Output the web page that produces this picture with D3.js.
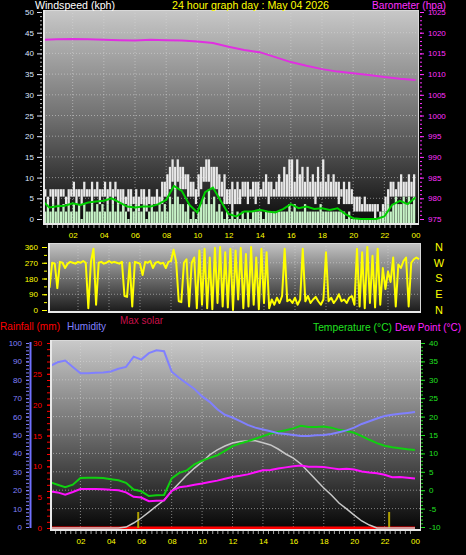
<!DOCTYPE html>
<html><head><meta charset="utf-8">
<script src="https://cdn.jsdelivr.net/npm/d3@7"></script>
<style>
html,body{margin:0;padding:0;background:#000;}
svg{display:block;}
text{font-family:"Liberation Sans",Arial,sans-serif;}
</style></head><body>
<svg id="c" width="466" height="555"></svg>
<script>
// ---------- DATA ----------
const hourLabels = ["02","04","06","08","10","12","14","16","18","20","22","00"];
const labelHours = [2,4,6,8,10,12,14,16,18,20,22,24];
const windTicks = [0,5,10,15,20,25,30,35,40,45,50];
const baroTicks = [975,980,985,990,995,1000,1005,1010,1015,1020,1025];
const dirTicks = [0,90,180,270,360];
const compassLabels = ["N","E","S","W","N"];
const humTicks = [0,10,20,30,40,50,60,70,80,90,100];
const rainTicks = [0,5,10,15,20,25,30];
const tempTicks = [-10,-5,0,5,10,15,20,25,30,35,40];

// barometer, hourly (hpa)
const baroHourly = [1018.3,1018.4,1018.5,1018.4,1018.3,1018.2,1018.1,1018.3,1018.2,1018.1,1017.9,1017.5,1016.6,
  1015.8,1015.3,1014.1,1012.9,1012.0,1011.2,1010.6,1010.2,1009.8,1009.3,1008.9,1008.6];

// gust range per 10 minutes (kph)
const gustHi = [
7.2,7.2,5.4,7.2,7.2,7.2, 7.2,7.2,7.2,5.4,7.2,7.2, 9.0,7.2,7.2,7.2,9.0,7.2, 7.2,9.0,7.2,9.0,7.2,7.2,
9.0,7.2,9.0,7.2,9.0,7.2, 7.2,7.2,5.4,7.2,7.2,5.4, 7.2,5.4,7.2,7.2,5.4,7.2, 5.4,5.4,7.2,5.4,9.0,9.0,
10.8,12.6,14.4,12.6,14.4,12.6, 12.6,10.8,10.8,9.0,9.0,7.2, 10.8,12.6,12.6,14.4,14.4,12.6, 12.6,12.6,10.8,9.0,10.8,7.2,
7.2,9.0,7.2,9.0,7.2,9.0, 9.0,9.0,7.2,9.0,9.0,9.0, 7.2,9.0,10.8,9.0,9.0,7.2, 9.0,10.8,9.0,12.6,10.8,14.4,
14.4,9.0,14.4,10.8,12.6,9.0, 12.6,9.0,10.8,9.0,12.6,9.0, 14.4,9.0,10.8,9.0,10.8,9.0, 9.0,7.2,9.0,7.2,9.0,7.2,
5.4,5.4,5.4,3.6,5.4,3.6, 3.6,3.6,3.6,3.6,1.8,3.6, 5.4,7.2,9.0,9.0,7.2,9.0, 10.8,9.0,9.0,10.8,9.0,10.8];
const gustLo = [
3.6,5.4,3.6,5.4,3.6,5.4, 3.6,5.4,5.4,3.6,3.6,5.4, 5.4,3.6,5.4,3.6,5.4,5.4, 5.4,3.6,5.4,5.4,3.6,5.4,
5.4,3.6,5.4,3.6,5.4,3.6, 3.6,1.8,3.6,1.8,3.6,3.6, 3.6,1.8,3.6,3.6,1.8,3.6, 3.6,3.6,3.6,3.6,3.6,5.4,
5.4,7.2,9.0,7.2,9.0,7.2, 7.2,7.2,5.4,5.4,5.4,3.6, 5.4,7.2,9.0,9.0,9.0,7.2, 7.2,7.2,5.4,5.4,3.6,3.6,
3.6,1.8,3.6,3.6,3.6,5.4, 5.4,3.6,5.4,5.4,3.6,5.4, 5.4,5.4,5.4,3.6,5.4,5.4, 5.4,5.4,5.4,5.4,5.4,5.4,
5.4,5.4,5.4,5.4,5.4,5.4, 5.4,5.4,5.4,3.6,5.4,5.4, 5.4,5.4,5.4,5.4,5.4,5.4, 3.6,5.4,3.6,3.6,3.6,3.6,
1.8,1.8,1.8,1.8,1.8,1.8, 1.8,1.8,0,1.8,0,1.8, 1.8,3.6,5.4,5.4,5.4,5.4, 5.4,5.4,5.4,5.4,5.4,5.4];
// wind speed per 10 minutes (kph)
const windSpeed = [
3.6,1.8,3.6,1.8,3.6,1.8, 3.6,1.8,3.6,1.8,3.6,1.8, 3.6,1.8,3.6,0,3.6,1.8, 1.8,3.6,1.8,3.6,1.8,3.6,
1.8,3.6,1.8,3.6,1.8,3.6, 1.8,3.6,1.8,0,3.6,1.8, 3.6,1.8,1.8,3.6,0,1.8, 3.6,1.8,1.8,3.6,1.8,3.6,
1.8,5.4,3.6,7.2,5.4,3.6, 3.6,1.8,3.6,0,1.8,0, 1.8,3.6,5.4,3.6,7.2,3.6, 5.4,1.8,3.6,1.8,0,1.8,
0,1.8,0,1.8,0,1.8, 0,1.8,0,1.8,1.8,1.8, 1.8,0,1.8,1.8,1.8,1.8, 1.8,1.8,1.8,1.8,1.8,3.6,
1.8,3.6,1.8,1.8,1.8,3.6, 1.8,1.8,1.8,1.8,1.8,3.6, 1.8,1.8,1.8,1.8,1.8,1.8, 1.8,1.8,1.8,0,1.8,0,
0,0,0,0,0,0, 0,0,0,0,0,1.8, 1.8,3.6,1.8,3.6,5.4,3.6, 3.6,5.4,3.6,5.4,3.6,5.4];
// average wind per 30 minutes (kph)
const windAvg = [4.6,2.8,3.1,3.2,3.8,3.4,4.0,4.2,4.4,5.0,4.0,3.0,2.8,3.0,3.0,3.6,4.6,8.0,6.8,3.4,1.6,6.5,7.6,4.4,
  1.2,0.6,1.8,1.8,2.2,1.8,1.6,2.4,3.6,2.6,3.0,2.4,2.6,2.2,2.6,1.2,0.2,0,0,0,0.6,3.4,4.4,3.6,5.2];

// wind direction per 10 minutes (degrees)
const windDir = [
280,130,270,265,125,275, 270,240,265,275,270,265, 275,270,280,270,10,275, 350,30,270,275,265,270,
280,270,275,270,265,275, 80,75,270,20,275,270, 265,200,275,270,280,240, 270,275,265,270,240,275,
280,345,275,50,45,270, 290,20,270,300,10,340, 30,350,10,300,5,355, 40,360,20,330,15,350,
0,340,60,355,10,320, 20,360,30,300,5,350, 40,330,10,60,30,70, 40,80,350,50,60,40,
70,30,60,350,50,80, 40,60,75,50,30,60, 330,50,70,40,60,90, 50,60,40,70,80,30,
350,20,330,10,360,40, 310,15,350,30,240,120, 220,160,300,20,260,240, 280,300,20,270,290,300, 290];

// per 30 minutes
const humidity = [87.5,89.5,90.5,87,83.5,83.6,83.8,84,84.5,86,87,92.6,91,94.5,96,95.5,84.4,81,78,75,71,68,64,61,
  59.5,57.5,55.5,54,53,52,51,50.5,50,49.5,49.5,49.8,50,50.5,51.5,52.5,54,56,57.5,59,60.3,61,61.5,62,62.5];
const temperature = [2.2,1.5,0.8,1.5,3.3,3.35,3.35,3.3,3.0,2.7,2.0,0.2,-0.3,-1.6,-1.4,-1.3,3.2,4.7,5.4,7.0,8.0,8.8,9.5,10.7,
  12.0,12.7,13.3,14.0,14.7,15.4,15.9,16.3,16.8,17.5,17.2,17.2,17.3,17.0,16.4,16.1,15.6,14.7,13.7,12.8,12.1,11.7,11.4,11.1,10.9];
const dewPoint = [-0.3,-0.6,-1.2,-0.5,0.3,0.3,0.3,0.25,0.1,0,-0.6,-1.8,-2.0,-3.0,-2.9,-2.8,-0.2,0.8,1.1,1.5,1.8,2.2,2.6,3.1,
  3.6,3.9,4.3,4.9,5.4,5.5,5.9,6.2,6.5,6.7,6.4,6.4,6.3,6.0,5.7,5.8,5.6,5.1,4.8,4.6,4.2,3.5,3.6,3.4,3.2];
const maxSolar = [0,0,0,0,0,0,0,0,0,0,5,27,54,86,119,151,200,243,286,324,357,395,422,443,
  459,468,472,471,461,449,427,400,378,346,303,259,216,178,135,103,70,38,16,0,0,0,0,0,0];
// rainfall, hourly (mm)
const rainfall = [0,0,0,0,0,0,0,0,0,0,0,0,0,0,0,0,0,0,0,0,0,0,0,0,0];
// sunrise / sunset markers (hour)
const sunMarks = [5.8, 22.3];

// ---------- DRAW ----------
const svg = d3.select("#c");
const defs = svg.append("defs");
function grad(id, stops){
  const g = defs.append("linearGradient").attr("id",id).attr("x1",0).attr("y1",0).attr("x2",0).attr("y2",1);
  stops.forEach(s=>g.append("stop").attr("offset",s[0]).attr("stop-color",s[1]));
}
grad("g1",[[0,"#c8c8c8"],[0.5,"#707070"],[1,"#080808"]]);
grad("g2",[[0,"#c4c4c4"],[1,"#181818"]]);
grad("g3",[[0,"#cacaca"],[0.5,"#6a6a6a"],[1,"#040404"]]);

const P1 = {x0:43,x1:419,y0:10,y1:225};
const P2 = {x0:48,x1:421,y0:243,y1:313};
const P3 = {x0:50,x1:421,y0:340,y1:531};

function panel(P,gid,cid){
  svg.append("rect").attr("x",P.x0).attr("y",P.y0).attr("width",P.x1-P.x0).attr("height",P.y1-P.y0)
     .attr("fill",`url(#${gid})`);
  defs.append("clipPath").attr("id",cid).append("rect").attr("x",P.x0+1).attr("y",P.y0+1)
     .attr("width",P.x1-P.x0-2).attr("height",P.y1-P.y0-2);
}
function border(P){
  svg.append("rect").attr("x",P.x0+0.5).attr("y",P.y0+0.5).attr("width",P.x1-P.x0-1).attr("height",P.y1-P.y0-1)
     .attr("fill","none").attr("stroke","#d8d8d8").attr("stroke-width",1);
  svg.append("path").attr("d",`M${P.x0+1},${P.y0} V${P.y1-1} H${P.x1}`).attr("fill","none")
     .attr("stroke","#e8e8e8").attr("stroke-width",2);
}
function styleAxis(g,color,fs){
  g.select(".domain").remove();
  g.selectAll("line").attr("stroke",color);
  g.selectAll("text").attr("fill",color).style("font-size",fs+"px");
}
function gridLines(P,xs,ys,x,y){
  const g = svg.append("g").attr("stroke","#d8d8d8").attr("stroke-opacity",0.55).attr("stroke-dasharray","1,2");
  xs.forEach(h=>g.append("line").attr("x1",x(h)).attr("x2",x(h)).attr("y1",P.y0).attr("y2",P.y1));
  ys.forEach(v=>g.append("line").attr("x1",P.x0).attr("x2",P.x1).attr("y1",y(v)).attr("y2",y(v)));
}
function title(x,y,color,txt,len,fs){
  svg.append("text").attr("x",x).attr("y",y).attr("fill",color).style("font-size",(fs||11)+"px")
    .attr("textLength",len).attr("lengthAdjust","spacingAndGlyphs").text(txt);
}

// scales
const x1 = d3.scaleLinear([0,24],[41.5,415.5]);
const yW = d3.scaleLinear([0,50],[219,12]);
const yB = d3.scaleLinear([975,1025],[219,12]);
const x2 = d3.scaleLinear([0,24],[47,419]);
const yD = d3.scaleLinear([0,360],[310,247]);
const x3 = d3.scaleLinear([0,24],[50,415]);
const yH = d3.scaleLinear([0,100],[527,343]);
const yR = d3.scaleLinear([0,30],[528,343]);
const yT = d3.scaleLinear([-10,40],[527,343]);
const yS = d3.scaleLinear([0,1000],[528,343]);

// ===== Panel 1: wind & barometer =====
panel(P1,"g1","c1");
gridLines(P1,labelHours.slice(0,11),windTicks.slice(1,10),x1,yW);
const p1 = svg.append("g").attr("clip-path","url(#c1)");
const slot = x1(1/6)-x1(0);
p1.append("g").selectAll("rect").data(gustHi).join("rect")
  .attr("x",(d,i)=>x1(i/6)+0.1).attr("width",slot-0.35)
  .attr("y",d=>yW(d)).attr("height",(d,i)=>Math.max(1,yW(gustLo[i])-yW(d)))
  .attr("fill","#e8e8e8");
p1.append("g").selectAll("rect").data(windSpeed).join("rect")
  .attr("x",(d,i)=>x1(i/6)+0.1).attr("width",slot-0.35)
  .attr("y",d=>yW(d)).attr("height",d=>yW(0)-yW(d)+4)
  .attr("fill","#c6f2c6");
p1.append("path").datum(windAvg).attr("fill","none").attr("stroke","#00d000").attr("stroke-width",2)
  .attr("d",d3.line().x((d,i)=>x1(i/2)).y(d=>yW(d)));
p1.append("path").datum(baroHourly).attr("fill","none").attr("stroke","#e030e0").attr("stroke-width",2)
  .attr("d",d3.line().x((d,i)=>x1(i)).y(d=>yB(d)));
border(P1);

const aw = svg.append("g").attr("transform","translate(42,0)")
  .call(d3.axisLeft(yW).tickValues(windTicks).tickSize(5).tickPadding(3));
styleAxis(aw,"#dde6ff",8);
styleAxis(svg.append("g").attr("transform","translate(42,0)")
  .call(d3.axisLeft(yW).tickValues(d3.range(0,51,1)).tickSize(2).tickFormat("")),"#c0c0c0",8);
const ab = svg.append("g").attr("transform","translate(420,0)")
  .call(d3.axisRight(yB).tickValues(baroTicks).tickSize(4).tickPadding(4).tickFormat(d=>String(d)));
styleAxis(ab,"#ff30ff",8);
styleAxis(svg.append("g").attr("transform","translate(420,0)")
  .call(d3.axisRight(yB).tickValues(d3.range(975,1026,1)).tickSize(2).tickFormat("")),"#ff30ff",8);
const ax1 = svg.append("g").attr("transform",`translate(0,${P1.y1})`)
  .call(d3.axisBottom(x1).tickValues(labelHours).tickSize(0).tickPadding(7).tickFormat((d,i)=>hourLabels[i]));
styleAxis(ax1,"#ffff00",8);
styleAxis(svg.append("g").attr("transform",`translate(0,${P1.y1})`)
  .call(d3.axisBottom(x1).tickValues(d3.range(1,72).map(k=>k/3)).tickSize(3).tickFormat("")),"#a0a0a0",8);

// titles
title(35,9,"#ffffff","Windspeed (kph)",80,10.5);
title(172,9,"#ffff00","24 hour graph day : May 04 2026",157,10.5);
title(372,8.5,"#ff30ff","Barometer (hpa)",74,10);

// ===== Panel 2: wind direction =====
panel(P2,"g2","c2");
gridLines(P2,labelHours.slice(0,11),[90,180,270],x2,yD);
svg.append("g").attr("clip-path","url(#c2)").append("path").datum(windDir)
  .attr("fill","none").attr("stroke","#ffff00").attr("stroke-width",2).attr("stroke-linejoin","round")
  .attr("d",d3.line().x((d,i)=>x2(i/6)).y(d=>yD(d)));
border(P2);
const ad = svg.append("g").attr("transform","translate(47,0)")
  .call(d3.axisLeft(yD).tickValues(dirTicks).tickSize(5).tickPadding(4));
styleAxis(ad,"#ffff00",8);
styleAxis(svg.append("g").attr("transform","translate(47,0)")
  .call(d3.axisLeft(yD).tickValues(d3.range(0,361,45)).tickSize(3).tickFormat("")),"#ffff00",8);
svg.append("g").selectAll("text").data(dirTicks).join("text")
  .attr("x",439).attr("y",d=>yD(d)).attr("dy","0.36em").attr("text-anchor","middle")
  .attr("fill","#ffff00").style("font-size","11px").text((d,i)=>compassLabels[i]);

// ===== Panel 3: temperature etc =====
title(0,330,"#ff0000","Rainfall (mm)",60,10.5);
title(67,330,"#8080ff","Humidity",39,10.5);
title(120,324,"#c8104a","Max solar",43,10.5);
title(313,331,"#20e020","Temperature (°C)",79,10);
title(395,331,"#ff20ff","Dew Point (°C)",66,10);

panel(P3,"g3","c3");
gridLines(P3,labelHours.slice(0,11),humTicks.slice(1,10),x3,yH);
const p3 = svg.append("g").attr("clip-path","url(#c3)");
p3.append("path").datum(rainfall).attr("fill","none").attr("stroke","#ff0000").attr("stroke-width",3)
  .attr("d",d3.line().x((d,i)=>x3(i)).y(d=>yR(d)));
p3.append("g").selectAll("line").data(sunMarks).join("line")
  .attr("x1",d=>x3(d)).attr("x2",d=>x3(d)).attr("y1",yR(0)).attr("y2",yR(2.6))
  .attr("stroke","#b0a000").attr("stroke-width",2);
p3.append("path").datum(maxSolar).attr("fill","none").attr("stroke","#c8c8c8").attr("stroke-width",1.5)
  .attr("d",d3.line().x((d,i)=>x3(i/2)).y(d=>yS(d)));
p3.append("path").datum(dewPoint).attr("fill","none").attr("stroke","#ff10ff").attr("stroke-width",2)
  .attr("d",d3.line().x((d,i)=>x3(i/2)).y(d=>yT(d)));
p3.append("path").datum(temperature).attr("fill","none").attr("stroke","#10d010").attr("stroke-width",2)
  .attr("d",d3.line().x((d,i)=>x3(i/2)).y(d=>yT(d)));
p3.append("path").datum(humidity).attr("fill","none").attr("stroke","#8080ff").attr("stroke-width",2)
  .attr("d",d3.line().x((d,i)=>x3(i/2)).y(d=>yH(d)));
border(P3);

// humidity axis
svg.append("line").attr("x1",30.5).attr("x2",30.5).attr("y1",yH(100)-1).attr("y2",yH(0)+1)
  .attr("stroke","#7070ff").attr("stroke-width",2);
const ah = svg.append("g").attr("transform","translate(29,0)")
  .call(d3.axisLeft(yH).tickValues(humTicks).tickSize(3).tickPadding(4));
styleAxis(ah,"#8080ff",8);
styleAxis(svg.append("g").attr("transform","translate(29,0)")
  .call(d3.axisLeft(yH).tickValues(d3.range(0,101,2)).tickSize(3).tickFormat("")),"#8080ff",8);
// rain axis
const ar = svg.append("g").attr("transform","translate(50,0)")
  .call(d3.axisLeft(yR).tickValues(rainTicks).tickSize(3).tickPadding(5));
styleAxis(ar,"#ff0000",8);
styleAxis(svg.append("g").attr("transform","translate(50,0)")
  .call(d3.axisLeft(yR).tickValues(d3.range(0,31,1)).tickSize(3).tickFormat("")),"#ff0000",8);
// temp axis
const at = svg.append("g").attr("transform","translate(421,0)")
  .call(d3.axisRight(yT).tickValues(tempTicks).tickSize(4).tickPadding(4).tickFormat(d=>String(d)));
styleAxis(at,"#20e020",8);
styleAxis(svg.append("g").attr("transform","translate(421,0)")
  .call(d3.axisRight(yT).tickValues(d3.range(-10,41,1)).tickSize(2).tickFormat("")),"#20e020",8);
const ax3 = svg.append("g").attr("transform",`translate(0,${P3.y1})`)
  .call(d3.axisBottom(x3).tickValues(labelHours).tickSize(0).tickPadding(7).tickFormat((d,i)=>hourLabels[i]));
styleAxis(ax3,"#ffff00",8);
styleAxis(svg.append("g").attr("transform",`translate(0,${P3.y1})`)
  .call(d3.axisBottom(x3).tickValues(d3.range(1,72).map(k=>k/3)).tickSize(3).tickFormat("")),"#a0a0a0",8);
</script>
</body></html>
